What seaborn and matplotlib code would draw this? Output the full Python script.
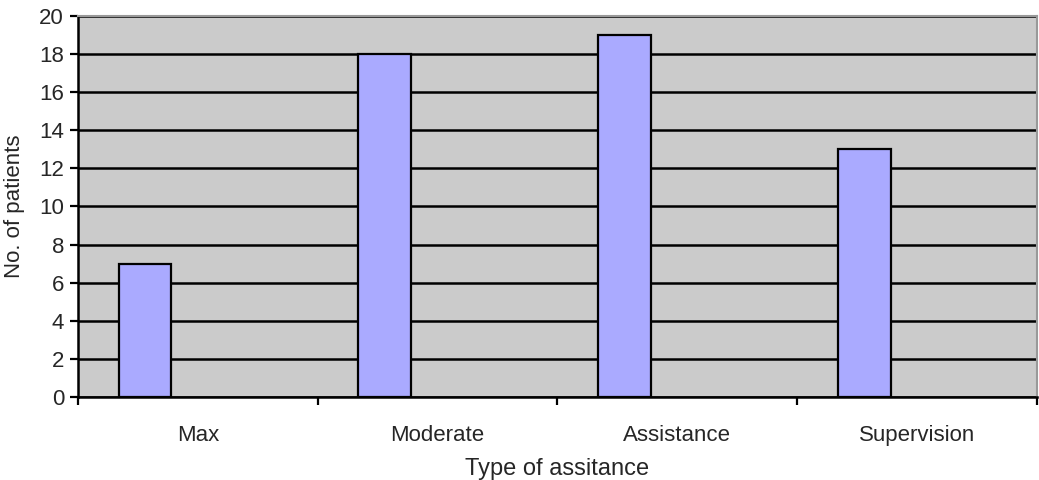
import pandas as pd
import seaborn as sns
import matplotlib.pyplot as plt
from matplotlib.ticker import FixedLocator

categorias = ["Max", "Moderate", "Assistance", "Supervision"]
pacientes = [7, 18, 19, 13]
serie = ["Patients"] * len(categorias)
# Excel-style clustered layout: only the first of three slots holds data
orden_series = ["Patients", "_b", "_c"]

df = pd.DataFrame({"tipo": categorias, "n": pacientes, "serie": serie})

sns.set_theme(style="white")
plt.rcParams['font.family'] = ['Liberation Sans', 'DejaVu Sans']

fig = plt.figure(figsize=(10.39, 4.8), dpi=100)
ax = fig.add_axes([0.075, 0.173, 0.923, 0.794])
ax.set_facecolor("#cbcbcb")

sns.barplot(data=df, x="tipo", y="n", hue="serie", hue_order=orden_series,
            palette={"Patients": "#aaaaff", "_b": "#aaaaff", "_c": "#aaaaff"},
            width=0.66, dodge=True, edgecolor="black", linewidth=1.6, saturation=1,
            legend=False, ax=ax, zorder=3)

ax.set_ylim(0, 20)
ax.set_xlim(-0.5, len(categorias) - 0.5)
ax.set_yticks(range(0, 21, 2))
ax.yaxis.grid(True, color="black", linewidth=1.8, zorder=0)
ax.set_axisbelow(True)

ax.xaxis.set_minor_locator(FixedLocator([i + 0.5 for i in range(-1, len(categorias))]))
ax.tick_params(axis="x", which="major", length=0, labelsize=16, pad=20)
ax.tick_params(axis="x", which="minor", length=6, width=1.6, color="black", direction="out", bottom=True)
ax.tick_params(axis="y", length=6, width=1.6, color="black", direction="out", left=True, labelsize=16, pad=4)

for s in ["left", "bottom"]:
    ax.spines[s].set_color("black")
    ax.spines[s].set_linewidth(1.8)
for s in ["top", "right"]:
    ax.spines[s].set_color("#999999")
    ax.spines[s].set_linewidth(1.5)

ax.set_xlabel("Type of assitance", fontsize=17, labelpad=9)
ax.set_ylabel("No. of patients", fontsize=16, labelpad=10)

plt.savefig("out.png", dpi=100)
